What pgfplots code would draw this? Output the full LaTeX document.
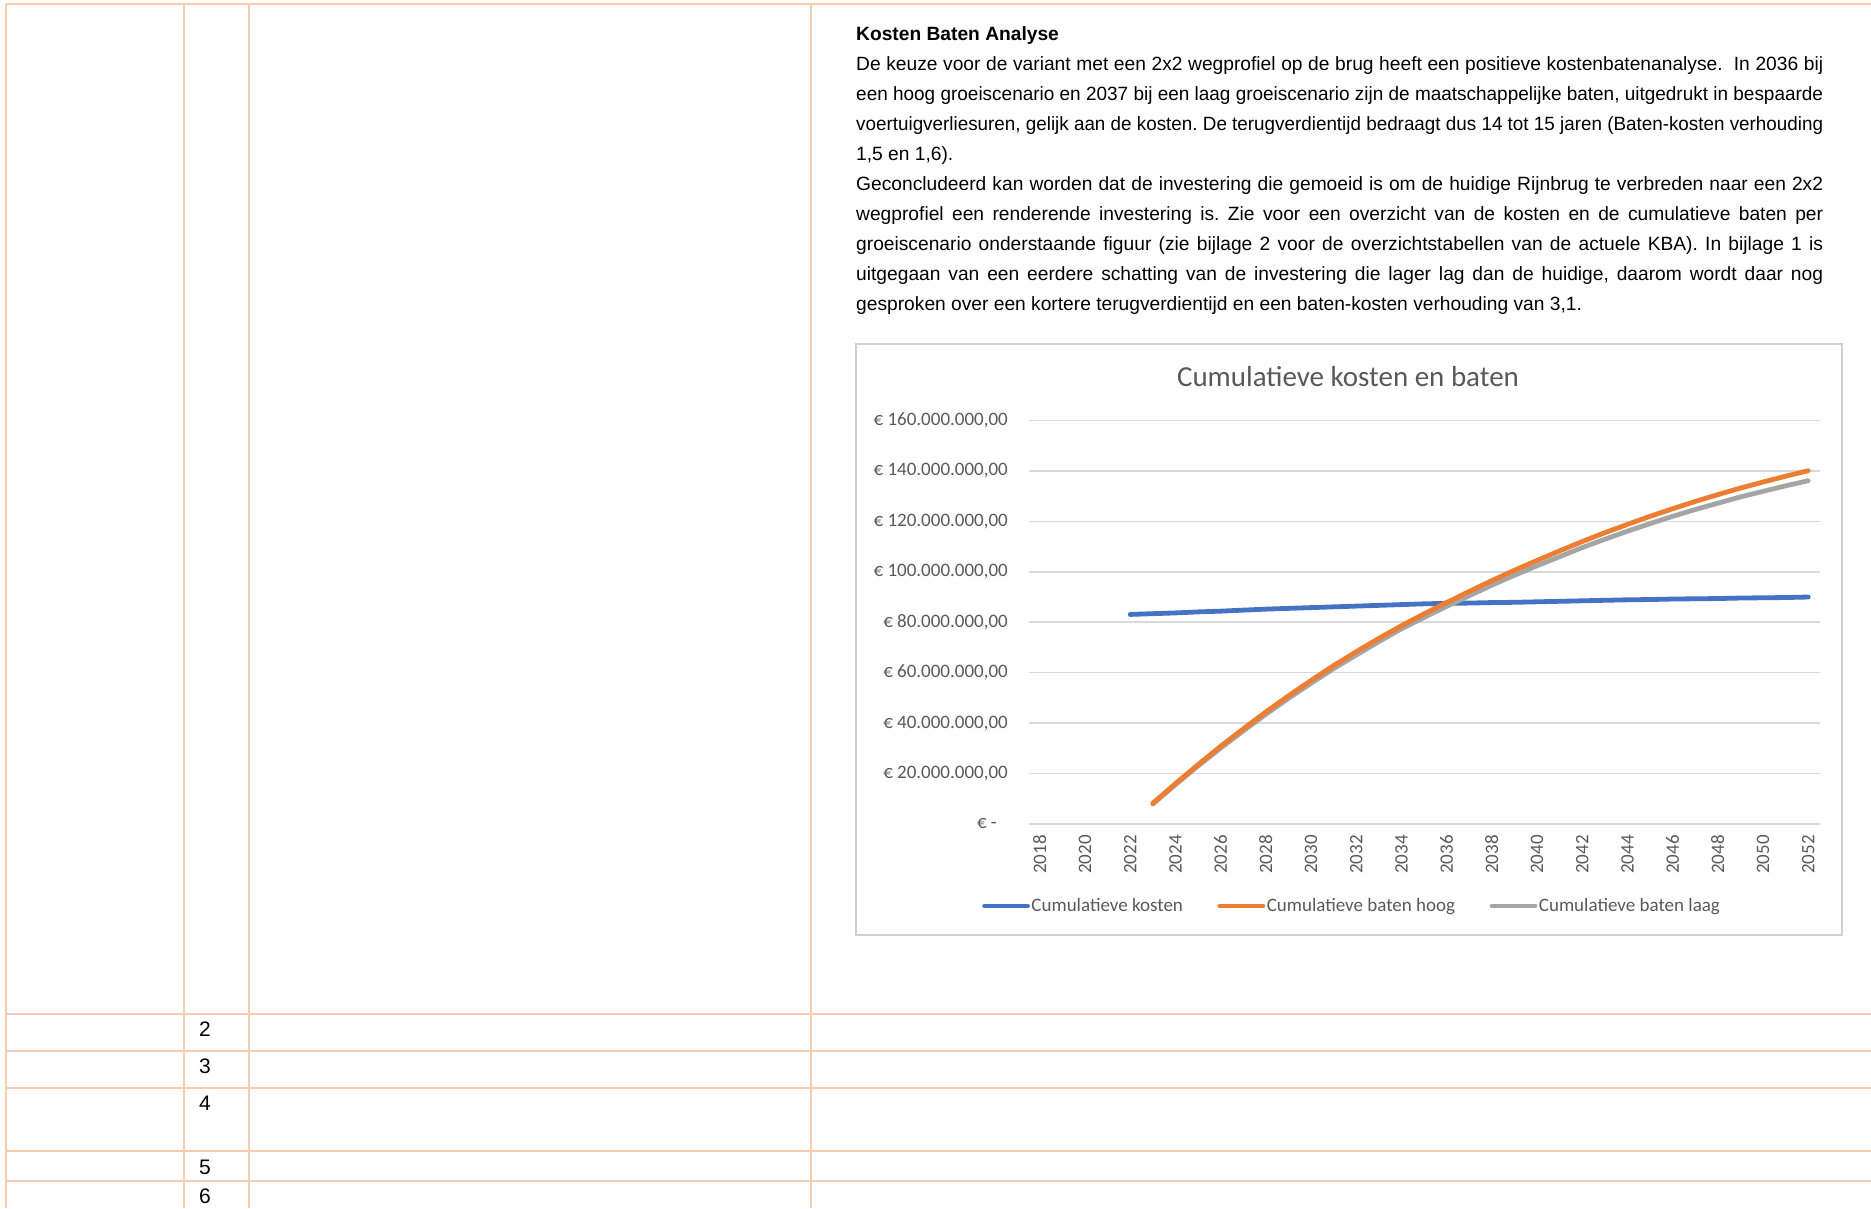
\documentclass[border=0pt]{standalone}
\usepackage{pgfplots}
\pgfplotsset{compat=1.18}
\usepackage{fontspec}
\usepackage{graphicx}
\setmainfont{Liberation Sans}
\newfontfamily\calfont{Carlito}
\frenchspacing

\definecolor{tbl}{HTML}{F6CDB0}
\definecolor{gridc}{HTML}{D9D9D9}
\definecolor{framec}{HTML}{D0D0D0}
\definecolor{lbl}{HTML}{595959}
\definecolor{sblue}{HTML}{4472C4}
\definecolor{sorange}{HTML}{ED7D31}
\definecolor{sgray}{HTML}{A5A5A5}

\newlength\jW \setlength\jW{967pt}
\newsavebox\jbox
\newcommand\jline[1]{\sbox\jbox{#1}%
 \ifdim\wd\jbox>\jW \resizebox{\jW}{\height}{\usebox\jbox}\else\hbox to \jW{#1}\fi}
\newcommand\bodyfont{\fontsize{19.2}{19.2}\selectfont}
\newcommand\tickfont{\calfont\fontsize{19}{19}\selectfont}

\begin{document}
\begin{tikzpicture}[x=1pt,y=1pt]
\useasboundingbox (0,0) rectangle (1871,1208);
\clip (0,0) rectangle (1871,1208);
% table grid
\begin{scope}[draw=tbl, line width=2pt]
\draw (6,1204) -- (1871,1204);
\foreach \xx in {6,184,249,811} {\draw (\xx,1204) -- (\xx,0);}
\foreach \yy in {194,157,120,57,27} {\draw (6,\yy) -- (1871,\yy);}
\end{scope}
% row numbers
\begin{scope}[every node/.style={anchor=base west, inner sep=0pt, font=\fontsize{21}{21}\selectfont}]
\node at (199,171.5) {2};
\node at (199,134.5) {3};
\node at (199,97.5) {4};
\node at (199,33.5) {5};
\node at (199,4.5) {6};
\end{scope}
% text block
\begin{scope}[every node/.style={anchor=base west, inner sep=0pt, font=\bodyfont}]
\node at (856,1167) {\bfseries Kosten Baten Analyse};
\node at (856,1137) {\jline{De keuze voor de variant met een 2x2 wegprofiel op de brug heeft een positieve kostenbatenanalyse.~ In 2036 bij}};
\node at (856,1107) {\jline{een hoog groeiscenario en 2037 bij een laag groeiscenario zijn de maatschappelijke baten, uitgedrukt in bespaarde}};
\node at (856,1077) {\jline{voertuigverliesuren, gelijk aan de kosten. De terugverdientijd bedraagt dus 14 tot 15 jaren (Baten-kosten verhouding}};
\node at (856,1047) {1,5 en 1,6).};
\node at (856,1017) {\jline{Geconcludeerd kan worden dat de investering die gemoeid is om de huidige Rijnbrug te verbreden naar een 2x2}};
\node at (856,987) {\jline{wegprofiel een renderende investering is. Zie voor een overzicht van de kosten en de cumulatieve baten per}};
\node at (856,957) {\jline{groeiscenario onderstaande figuur (zie bijlage 2 voor de overzichtstabellen van de actuele KBA). In bijlage 1 is}};
\node at (856,927) {\jline{uitgegaan van een eerdere schatting van de investering die lager lag dan de huidige, daarom wordt daar nog}};
\node at (856,897) {gesproken over een kortere terugverdientijd en een baten-kosten verhouding van 3,1.};
\end{scope}
% chart frame and title
\draw[framec, line width=2pt] (856,272.5) rectangle (1842,864);
\node[anchor=base, inner sep=0pt, font=\calfont\fontsize{29}{29}\selectfont, text=lbl] at (1348,821) {Cumulatieve kosten en baten};

\begin{axis}[
 at={(1028.5pt,384pt)}, anchor=south west,
 scale only axis, width=791pt, height=403.5pt,
 xmin=2017.5, xmax=2052.5, ymin=0, ymax=160,
 axis line style={draw=none},
 major tick length=0pt,
 ymajorgrids, grid style={gridc, line width=1.5pt},
 xtick={2018,2020,...,2052},
 xticklabels={2018,2020,2022,2024,2026,2028,2030,2032,2034,2036,2038,2040,2042,2044,2046,2048,2050,2052},
 ytick={0,20,40,60,80,100,120,140,160},
 yticklabels={{€ -\hspace*{11pt}},{€ 20.000.000,00},{€ 40.000.000,00},{€ 60.000.000,00},{€ 80.000.000,00},{€ 100.000.000,00},{€ 120.000.000,00},{€ 140.000.000,00},{€ 160.000.000,00}},
 xticklabel style={rotate=90, anchor=east, inner sep=0pt, font=\tickfont, text=lbl},
 yticklabel style={anchor=east, inner sep=0pt, font=\tickfont, text=lbl},
 xticklabel shift=11pt, yticklabel shift=20.5pt,
 clip=false,
 legend columns=3,
 legend style={at={(0.4087,-0.203)}, anchor=center, draw=none, fill=none,
   font=\tickfont, text=lbl, inner sep=0pt,
   nodes={inner sep=1.5pt},
   /tikz/every even column/.append style={column sep=33pt}},
 legend image code/.code={\draw[#1] (0pt,0pt) -- (43pt,0pt);},
 every axis plot/.append style={line width=4.8pt, line join=round, line cap=round},
]
\addplot[sblue] coordinates {
(2022,83.1)(2023,83.4)(2024,83.7)(2025,84.1)(2026,84.4)(2027,84.8)(2028,85.2)(2029,85.5)
(2030,85.8)(2031,86.1)(2032,86.4)(2033,86.7)(2034,87.0)(2035,87.3)(2036,87.5)(2037,87.6)
(2038,87.8)(2039,87.9)(2040,88.1)(2041,88.3)(2042,88.5)(2043,88.7)(2044,88.9)(2045,89.0)
(2046,89.2)(2047,89.3)(2048,89.4)(2049,89.6)(2050,89.7)(2051,89.8)(2052,90.0)};
\addlegendentry{Cumulatieve kosten}
% low scenario drawn beneath the high scenario
\addplot[sgray, forget plot] coordinates {
(2023,7.9)(2024,15.6)(2025,23.0)(2026,30.1)(2027,36.9)(2028,43.5)(2029,49.8)(2030,55.8)
(2031,61.6)(2032,67.0)(2033,72.3)(2034,77.4)(2035,81.9)(2036,86.3)(2037,90.5)(2038,94.7)
(2039,98.6)(2040,102.4)(2041,106.0)(2042,109.6)(2043,112.9)(2044,116.1)(2045,119.1)
(2046,122.0)(2047,124.7)(2048,127.2)(2049,129.7)(2050,131.9)(2051,134.1)(2052,136.1)};
\addplot[sorange] coordinates {
(2023,8.2)(2024,16.0)(2025,23.5)(2026,30.8)(2027,37.7)(2028,44.4)(2029,50.8)(2030,56.9)
(2031,62.8)(2032,68.3)(2033,73.6)(2034,78.6)(2035,83.3)(2036,87.8)(2037,92.2)(2038,96.5)
(2039,100.6)(2040,104.5)(2041,108.3)(2042,112.0)(2043,115.5)(2044,118.8)(2045,122.0)
(2046,125.0)(2047,127.9)(2048,130.6)(2049,133.2)(2050,135.6)(2051,137.9)(2052,140.1)};
\addlegendentry{Cumulatieve baten hoog}
\addlegendimage{sgray, line width=4.8pt, line cap=round}
\addlegendentry{Cumulatieve baten laag}
\end{axis}
\end{tikzpicture}
\end{document}
